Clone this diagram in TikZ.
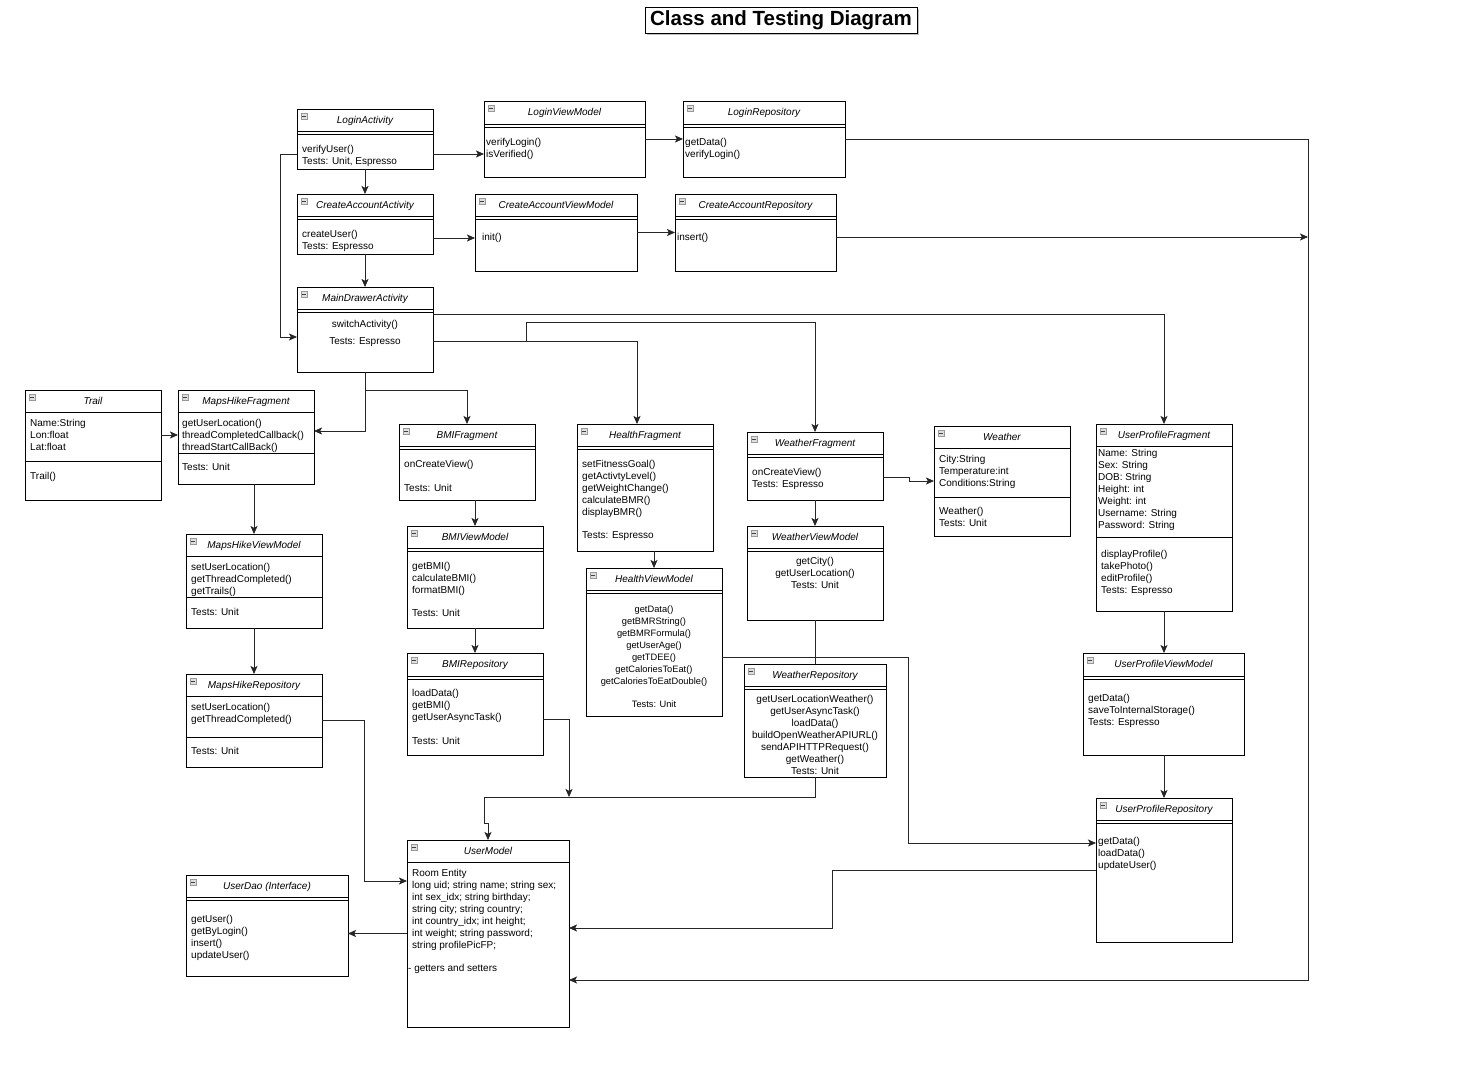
\documentclass[tikz,border=0pt]{standalone}
\usepackage{fontspec}
\setmainfont{Liberation Sans}
\usetikzlibrary{arrows.meta,calc}
\tikzset{
  clsbox/.style={draw=black, line width=0.9pt, fill=white, inner sep=0pt, outer sep=0pt},
  clstitle/.style={font=\fontsize{10}{12}\selectfont\itshape, inner sep=0pt, anchor=base},
  clsicon/.style={draw=gray!80, fill=gray!25, line width=0.4pt},
  clsmin/.style={draw=black!75, line width=0.6pt},
  clsline/.style={draw=black, line width=0.8pt},
  lt/.style={font=\fontsize{10}{12}\selectfont, inner sep=0pt},
  lts/.style={font=\fontsize{9.3}{12}\selectfont, inner sep=0pt},
  conn/.style={draw=black!85, line width=0.8pt},
  arr/.style={conn, -{Stealth[length=8pt,width=7pt,inset=1.8pt]}}
}
\newcommand\ucls[6]{%
  \node[clsbox, minimum width={#4-#2}, minimum height={#5-#3}, anchor=north west] (#1) at (#2,#3) {};
  \node[clstitle] (#1-t) at ({(#2+#4)/2},{#3+14.5}) {#6};
  \draw[clsicon] ({#2+4},{#3+4}) rectangle ++(6,6);
  \draw[clsmin] ({#2+5.2},{#3+7}) -- ++(3.6,0);
}
\newcommand\sepl[3]{\draw[clsline] (#1,{#3}) -- (#2,{#3});}
\newcommand\dsepl[3]{\sepl{#1}{#2}{#3}\sepl{#1}{#2}{#3+3}}
\newcommand\ctxtL[4]{\foreach \lineitem [count=\i] in {#4}{\node[lt, anchor=base west] (#1-\i) at (#2,{#3+3.5+12*(\i-1)}) {\lineitem};}}
\newcommand\ctxtC[4]{\foreach \lineitem [count=\i] in {#4}{\node[lt, anchor=base] (#1-\i) at (#2,{#3+3.5+12*(\i-1)}) {\lineitem};}}
\newcommand\ctxtCs[4]{\foreach \lineitem [count=\i] in {#4}{\node[lts, anchor=base] (#1-\i) at (#2,{#3+3.5+12*(\i-1)}) {\lineitem};}}
\begin{document}
\begin{tikzpicture}[x=1pt,y=-1pt]
\path[use as bounding box, fill=white] (0,0) rectangle (1481,1084);

\fill[gray!50] (647,9) rectangle (919,35);
\node[draw=black, fill=white, line width=1pt, minimum width=272, minimum height=26, inner sep=0pt,
  font=\fontsize{20.5}{22}\selectfont\bfseries] (title) at (781,20) {Class and Testing Diagram};

% ---- classes ----
\ucls{la}{297}{109}{433}{169}{LoginActivity}
\dsepl{297}{433}{131}
\ctxtL{la-m}{302}{149}{verifyUser(),{Tests: Unit, Espresso}}

\ucls{lvm}{484}{101}{645}{177}{LoginViewModel}
\dsepl{484}{645}{124}
\ctxtL{lvm-m}{486}{142}{verifyLogin(),isVerified()}

\ucls{lr}{683}{101}{845}{177}{LoginRepository}
\dsepl{683}{845}{124}
\ctxtL{lr-m}{685}{142}{getData(),verifyLogin()}

\ucls{caa}{297}{194}{433}{254}{CreateAccountActivity}
\dsepl{297}{433}{216}
\ctxtL{caa-m}{302}{234}{createUser(),{Tests: Espresso}}

\ucls{cavm}{475}{194}{637}{271}{CreateAccountViewModel}
\dsepl{475}{637}{216}
\ctxtL{cavm-m}{482}{237}{init()}

\ucls{car}{675}{194}{836}{271}{CreateAccountRepository}
\dsepl{675}{836}{216}
\ctxtL{car-m}{677}{237}{insert()}

\ucls{md}{297}{287}{433}{372}{MainDrawerActivity}
\dsepl{297}{433}{309}
\ctxtC{md-m}{365}{324}{switchActivity()}
\ctxtC{md-n}{365}{341}{{Tests: Espresso}}

\ucls{tr}{25}{390}{161}{500}{Trail}
\sepl{25}{161}{412}
\ctxtL{tr-a}{30}{423}{Name:String,Lon:float,Lat:float}
\sepl{25}{161}{461}
\ctxtL{tr-m}{30}{476}{Trail()}

\ucls{mhf}{178}{390}{314}{484}{MapsHikeFragment}
\sepl{178}{314}{412}
\ctxtL{mhf-m}{182}{423}{getUserLocation(),threadCompletedCallback(),threadStartCallBack()}
\sepl{178}{314}{453}
\ctxtL{mhf-n}{182}{467}{{Tests: Unit}}

\ucls{bf}{399}{424}{535}{500}{BMIFragment}
\dsepl{399}{535}{446}
\ctxtL{bf-m}{404}{464}{onCreateView()}
\ctxtL{bf-n}{404}{488}{{Tests: Unit}}

\ucls{hf}{577}{424}{713}{551}{HealthFragment}
\dsepl{577}{713}{446}
\ctxtL{hf-m}{582}{464}{setFitnessGoal(),getActivtyLevel(),getWeightChange(),calculateBMR(),displayBMR()}
\ctxtL{hf-n}{582}{535}{{Tests: Espresso}}

\ucls{wf}{747}{432}{883}{500}{WeatherFragment}
\dsepl{747}{883}{454}
\ctxtL{wf-m}{752}{472}{onCreateView(),{Tests: Espresso}}

\ucls{w}{934}{426}{1070}{536}{Weather}
\sepl{934}{1070}{448}
\ctxtL{w-a}{939}{459}{City:String,Temperature:int,Conditions:String}
\sepl{934}{1070}{497}
\ctxtL{w-m}{939}{511}{Weather(),{Tests: Unit}}

\ucls{upf}{1096}{424}{1232}{611}{UserProfileFragment}
\sepl{1096}{1232}{446}
\ctxtL{upf-a}{1098}{453}{{Name: String},{Sex: String},{DOB: String},{Height: int},{Weight: int},{Username: String},{Password: String}}
\sepl{1096}{1232}{537}
\ctxtL{upf-m}{1101}{554}{displayProfile(),takePhoto(),editProfile(),{Tests: Espresso}}

\ucls{mhvm}{186}{534}{322}{628}{MapsHikeViewModel}
\sepl{186}{322}{556}
\ctxtL{mhvm-m}{191}{567}{setUserLocation(),getThreadCompleted(),getTrails()}
\sepl{186}{322}{597}
\ctxtL{mhvm-n}{191}{612}{{Tests: Unit}}

\ucls{bvm}{407}{526}{543}{628}{BMIViewModel}
\dsepl{407}{543}{548}
\ctxtL{bvm-m}{412}{566}{getBMI(),calculateBMI(),formatBMI()}
\ctxtL{bvm-n}{412}{613}{{Tests: Unit}}

\ucls{hvm}{586}{568}{722}{716}{HealthViewModel}
\dsepl{586}{722}{590}
\ctxtCs{hvm-m}{654}{609}{getData(),getBMRString(),getBMRFormula(),getUserAge(),getTDEE(),getCaloriesToEat(),getCaloriesToEatDouble()}
\ctxtCs{hvm-n}{654}{704}{{Tests: Unit}}

\ucls{wvm}{747}{526}{883}{620}{WeatherViewModel}
\dsepl{747}{883}{548}
\ctxtC{wvm-m}{815}{561}{getCity(),getUserLocation(),{Tests: Unit}}

\ucls{upvm}{1083}{653}{1244}{755}{UserProfileViewModel}
\dsepl{1083}{1244}{676}
\ctxtL{upvm-m}{1088}{698}{getData(),saveToInternalStorage(),{Tests: Espresso}}

\ucls{mhr}{186}{674}{322}{767}{MapsHikeRepository}
\sepl{186}{322}{696}
\ctxtL{mhr-m}{191}{707}{setUserLocation(),getThreadCompleted()}
\sepl{186}{322}{737}
\ctxtL{mhr-n}{191}{751}{{Tests: Unit}}

\ucls{br}{407}{653}{543}{755}{BMIRepository}
\dsepl{407}{543}{676}
\ctxtL{br-m}{412}{693}{loadData(),getBMI(),getUserAsyncTask()}
\ctxtL{br-n}{412}{741}{{Tests: Unit}}

\ucls{wr}{744}{664}{886}{777}{WeatherRepository}
\dsepl{744}{886}{686}
\ctxtC{wr-m}{815}{699}{getUserLocationWeather(),getUserAsyncTask(),loadData(),buildOpenWeatherAPIURL(),sendAPIHTTPRequest(),getWeather(),{Tests: Unit}}

\ucls{upr}{1096}{798}{1232}{942}{UserProfileRepository}
\dsepl{1096}{1232}{820}
\ctxtL{upr-m}{1098}{841}{getData(),loadData(),updateUser()}

\ucls{ud}{186}{875}{348}{976}{UserDao (Interface)}
\dsepl{186}{348}{897}
\ctxtL{ud-m}{191}{919}{getUser(),getByLogin(),insert(),updateUser()}

\ucls{um}{407}{840}{569}{1027}{UserModel}
\sepl{407}{569}{862}
\ctxtL{um-a}{412}{873}{{Room Entity},{long uid; string name; string sex;},{int sex\_idx; string birthday;},{string city; string country;},{int country\_idx; int height;},{int weight; string password;},{string profilePicFP;}}
\ctxtL{um-m}{408}{968}{{- getters and setters}}

% ---- connectors ----
\coordinate (busR) at (1308,139);
\coordinate (busB) at (569,797);
\coordinate (j1) at (526,341);
\coordinate (j2) at (365,390);
\coordinate (k1) at (484,823);

\coordinate (c1) at ([yshift=-15pt]la.east);
\draw[arr] (c1) -- (c1 -| lvm.west);
\draw[arr] (lvm.east) -- (lr.west);
\coordinate (c3) at ([yshift=-46.5pt]um.east);
\draw[arr] (lr.east) -- (lr.east -| busR) -- (busR |- c3) -- (c3);
\draw[arr] (la.south) -- (caa.north);
\coordinate (c5) at ([yshift=-7.5pt]md.west);
\draw[arr] (c1 -| la.west) -- ++(-17,0) |- (c5);
\coordinate (c6) at ([yshift=-14pt]caa.east);
\draw[arr] (c6) -- (c6 -| cavm.west);
\draw[arr] (cavm.east) -- (car.west);
\coordinate (c8) at ([yshift=-4.5pt]car.east);
\draw[arr] (c8) -- (c8 -| busR);
\draw[arr] (caa.south) -- (md.north);
\coordinate (c10) at ([yshift=15.5pt]md.east);
\draw[arr] (c10) -| (upf.north);
\coordinate (c11) at ([yshift=-11.5pt]md.east);
\draw[arr] (c11) -| ([xshift=-8pt]hf.north);
\draw[arr] (j1) -- ++(0,-19) -| (wf.north);
\draw[arr] (md.south) |- ([yshift=6pt]mhf.east);
\draw[arr] (j2) -| (bf.north);
\coordinate (c14) at ([yshift=10pt]tr.east);
\draw[arr] (c14) -- (c14 -| mhf.west);
\draw[arr] (mhf.south -| mhvm.north) -- (mhvm.north);
\draw[arr] (mhvm.south) -- (mhr.north);
\draw[arr] (mhr.east) -- ++(42,0) |- ([yshift=52.5pt]um.west);
\draw[arr] (bf.south -| bvm.north) -- (bvm.north);
\draw[arr] (bvm.south) -- (br.north);
\coordinate (c20) at ([yshift=-15pt]br.east);
\draw[arr] (c20) -| (busB);
\draw[arr] (wr.south) |- (k1 |- busB) -- (k1) -| (um.north);
\draw[arr] (hf.south -| hvm.north) -- (hvm.north);
\coordinate (c23) at ([yshift=-15pt]hvm.east);
\draw[arr] (c23) -- ++(186,0) |- ([yshift=27pt]upr.west);
\draw[arr] (wf.south) -- (wvm.north);
\coordinate (c25) at ([yshift=-11pt]wf.east);
\draw[arr] (c25) -- ++(26,0) |- (w.west);
\draw[arr] (upf.south) -- (upf.south |- upvm.north);
\draw[arr] (upvm.south -| upr.north) -- (upr.north);
\draw[arr] (upr.west) -- ++(-264,0) |- ([yshift=5.5pt]um.east);
\draw[arr] (um.west) -- (um.west -| ud.east);
\draw[conn] (wvm.south) -- (wr.north);
\end{tikzpicture}
\end{document}
